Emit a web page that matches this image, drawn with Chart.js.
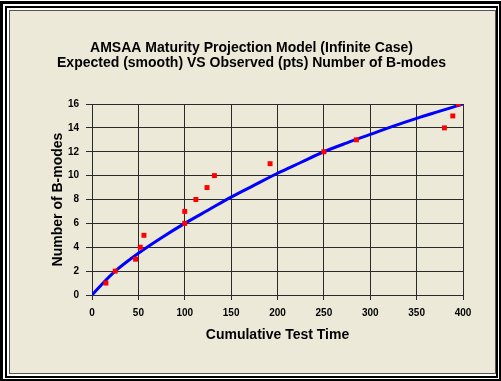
<!DOCTYPE html>
<html>
<head>
<meta charset="utf-8">
<script src="https://cdn.jsdelivr.net/npm/chart.js@4/dist/chart.umd.min.js"></script>
<style>
  body { margin: 0; background: #fff; }
  #wrap { position: relative; width: 501px; height: 381px; overflow: hidden; }
  .frame { position: absolute; box-sizing: border-box; }
  #f1 { left: 0; top: 1px; width: 501px; height: 380px; border: 2px solid #000; border-left-width: 3px; border-top-width: 3px; background: #fff; }
  #f2 { left: 5px; top: 6px; width: 493px; height: 372px; border: 2px solid #000; background: #fff; }
  #f3 { left: 9px; top: 10px; width: 487px; height: 364px; border: 1px solid #555; background: #ece9d8; }
  canvas { position: absolute; left: 0; top: 0; }
</style>
</head>
<body>
<div id="wrap">
  <div class="frame" id="f1"></div>
  <div class="frame" id="f2"></div>
  <div class="frame" id="f3"></div>
  <canvas id="chart" width="501" height="381"></canvas>
</div>
<script>
// expected number of B-modes (smooth curve)
const curveTime = [0, 12.5, 25, 50, 75, 100, 125, 150, 175, 200, 225, 250, 275, 300, 325, 350, 375, 400];
const curveModes = [0, 1.05, 2.0, 3.5, 4.8, 6.0, 7.1, 8.2, 9.2, 10.2, 11.1, 12.0, 12.75, 13.45, 14.15, 14.8, 15.4, 16.0];

// observed B-modes
const obsTime = [15, 25, 47, 52, 56, 100, 100, 112, 124, 132, 192, 250, 285, 380, 389, 395];
const obsModes = [1, 2, 3, 4, 5, 6, 7, 8, 9, 10, 11, 12, 13, 14, 15, 16];

const titleLines = [
  'AMSAA Maturity Projection Model (Infinite Case)',
  'Expected (smooth) VS Observed (pts) Number of B-modes'
];

const fontFamily = '"Liberation Sans", Arial, sans-serif';
const gridColor = '#2a2a2a';

const toPoints = (xs, ys) => xs.map((x, i) => ({ x: x, y: ys[i] }));

new Chart(document.getElementById('chart').getContext('2d'), {
  type: 'scatter',
  data: {
    datasets: [
      {
        label: 'Observed',
        data: toPoints(obsTime, obsModes),
        pointStyle: 'rect',
        pointRadius: 3.5,
        backgroundColor: '#ff0000',
        borderColor: '#ff0000',
        borderWidth: 0,
        order: 0
      },
      {
        label: 'Expected',
        data: toPoints(curveTime, curveModes),
        showLine: true,
        cubicInterpolationMode: 'monotone',
        borderColor: '#0000ff',
        borderWidth: 3,
        pointRadius: 0,
        fill: false,
        order: 1
      }
    ]
  },
  options: {
    responsive: false,
    animation: false,
    devicePixelRatio: 1,
    layout: { padding: { top: 10, left: 40, right: 38, bottom: 30 } },
    plugins: {
      legend: { display: false },
      tooltip: { enabled: false },
      title: {
        display: true,
        text: titleLines,
        color: '#000',
        font: { family: fontFamily, size: 14, weight: 'bold', lineHeight: '15px' },
        padding: { top: 31, bottom: 33 }
      }
    },
    scales: {
      x: {
        type: 'linear',
        min: 0,
        max: 400,
        afterFit: (scale) => { scale.height = 56; },
        ticks: {
          stepSize: 50,
          color: '#000',
          padding: 7,
          maxRotation: 0,
          font: { family: fontFamily, size: 10, weight: 'bold' }
        },
        grid: { color: gridColor, lineWidth: 1, tickLength: 5 },
        border: { color: gridColor, width: 1 },
        title: {
          display: true,
          text: 'Cumulative Test Time',
          color: '#000',
          font: { family: fontFamily, size: 14, weight: 'bold' },
          padding: { top: 0, bottom: 7.5 }
        }
      },
      y: {
        min: 0,
        max: 16,
        afterFit: (scale) => { scale.width = 52; },
        ticks: {
          stepSize: 2,
          color: '#000',
          padding: 7,
          font: { family: fontFamily, size: 10, weight: 'bold' }
        },
        grid: { color: gridColor, lineWidth: 1, tickLength: 6 },
        border: { color: gridColor, width: 1 },
        title: {
          display: true,
          text: 'Number of B-modes',
          color: '#000',
          font: { family: fontFamily, size: 14, weight: 'bold' },
          padding: { top: 9.5, bottom: 0 }
        }
      }
    }
  }
});
</script>
</body>
</html>
